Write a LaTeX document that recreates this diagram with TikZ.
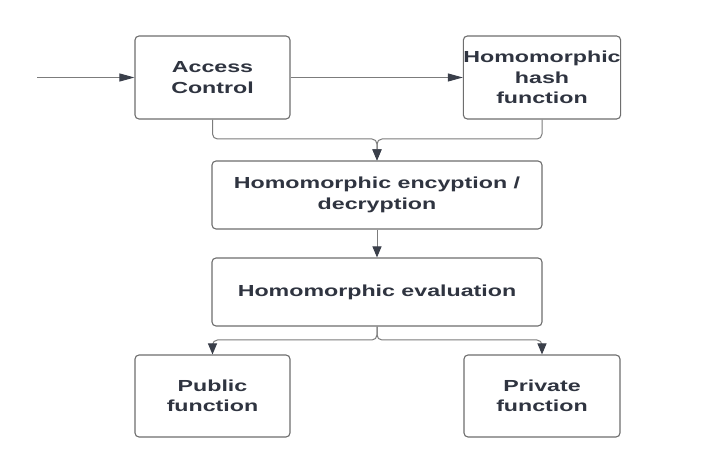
\documentclass[tikz,border=0pt]{standalone}
\usepackage{fontspec}
\setmainfont[FakeStretch=1.45]{Liberation Sans}
\usetikzlibrary{arrows.meta}
\definecolor{textc}{HTML}{2F3440}
\definecolor{linec}{HTML}{7C7C7C}
\definecolor{boxc}{HTML}{6E6E6E}
\definecolor{tipc}{HTML}{3A3F4A}
\tikzset{
  box/.style={draw=boxc, line width=1.1pt, rounded corners=4pt, fill=white,
    text=textc, align=center, inner sep=0pt,
    font=\fontsize{16}{20.5}\selectfont\bfseries},
  conn/.style={draw=linec, line width=1pt, rounded corners=5pt},
  harrow/.style={conn, -{Triangle[length=15pt,width=8pt,color=tipc]}},
  varrow/.style={conn, -{Triangle[length=11pt,width=9pt,color=tipc]}}
}
\begin{document}
\begin{tikzpicture}[x=1pt,y=-1pt]
\useasboundingbox[fill=white] (0,0) rectangle (721,465);
\node[box, minimum width=155pt, minimum height=83pt] (ac) at (212.5,77.5) {Access\\Control};
\node[box, minimum width=156pt, minimum height=83pt] (hash) at (542,77.5) {Homomorphic\\hash\\function};
\node[box, minimum width=330pt, minimum height=68pt] (enc) at (377,195) {Homomorphic encyption /\\decryption};
\node[box, minimum width=330pt, minimum height=68pt] (eval) at (377,292) {Homomorphic evaluation};
\node[box, minimum width=155pt, minimum height=82pt] (pub) at (212.5,396) {Public\\function};
\node[box, minimum width=156pt, minimum height=82pt] (priv) at (542,396) {Private\\function};
\coordinate (in) at (37,77.5);
\coordinate (j1) at (377,139);
\coordinate (j2) at (377,340);
\draw[harrow] (in) -- (ac.west);
\draw[harrow] (ac.east) -- (hash.west);
\draw[varrow] (ac.south) |- (j1) -- (enc.north);
\draw[varrow] (hash.south) |- (j1) -- (enc.north);
\draw[varrow] (enc.south) -- (eval.north);
\draw[varrow] (eval.south) -- (j2) -| (pub.north);
\draw[varrow] (eval.south) -- (j2) -| (priv.north);
\end{tikzpicture}
\end{document}
